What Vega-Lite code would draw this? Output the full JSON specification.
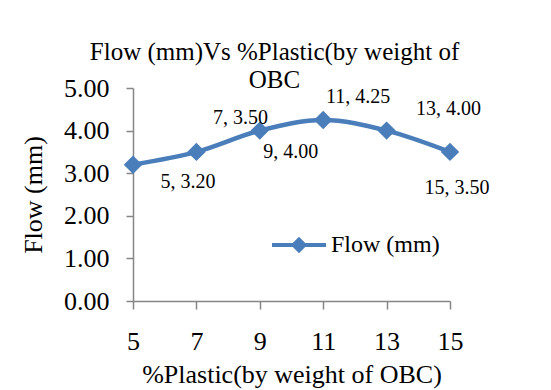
{
  "$schema": "https://vega.github.io/schema/vega-lite/v6.json",
  "width": 317,
  "height": 213,
  "autosize": {"type": "none"},
  "padding": {"left": 133, "top": 88, "right": 101, "bottom": 89},
  "background": "white",
  "config": {
    "font": "Liberation Serif",
    "view": {"stroke": null},
    "axis": {
      "grid": false,
      "domainColor": "#868686",
      "domainWidth": 1.5,
      "tickColor": "#868686",
      "tickWidth": 1.5,
      "labelColor": "black",
      "labelFont": "Liberation Serif",
      "labelFontSize": 26,
      "titleFont": "Liberation Serif",
      "titleFontSize": 26,
      "titleFontWeight": "normal",
      "titleColor": "black"
    }
  },
  "title": {
    "text": ["Flow (mm)Vs %Plastic(by weight of", "OBC"],
    "font": "Liberation Serif",
    "fontSize": 25,
    "fontWeight": "normal",
    "color": "black",
    "lineHeight": 28,
    "anchor": "middle",
    "offset": -18,
    "dx": -17
  },
  "data": {
    "values": [
      {"x": 5, "flow": 3.2, "label": "5, 3.20"},
      {"x": 7, "flow": 3.5, "label": "7, 3.50"},
      {"x": 9, "flow": 4.0, "label": "9, 4.00"},
      {"x": 11, "flow": 4.25, "label": "11, 4.25"},
      {"x": 13, "flow": 4.0, "label": "13, 4.00"},
      {"x": 15, "flow": 3.5, "label": "15, 3.50"}
    ]
  },
  "encoding": {
    "x": {
      "field": "x",
      "type": "quantitative",
      "scale": {"domain": [5, 15], "nice": false, "zero": false},
      "axis": {
        "values": [5, 7, 9, 11, 13, 15],
        "tickSize": 8,
        "labelPadding": 19,
        "labelFlush": false,
        "title": "%Plastic(by weight of OBC)",
        "titlePadding": 7
      }
    },
    "y": {
      "field": "flow",
      "type": "quantitative",
      "scale": {"domain": [0, 5], "nice": false},
      "axis": {
        "values": [0, 1, 2, 3, 4, 5],
        "format": ".2f",
        "tickSize": 7,
        "labelPadding": 17,
        "title": "Flow (mm)",
        "titlePadding": 17
      }
    }
  },
  "layer": [
    {
      "mark": {"type": "line", "interpolate": "catmull-rom", "strokeWidth": 4.5},
      "encoding": {
        "color": {
          "datum": "Flow (mm)",
          "type": "nominal",
          "scale": {"range": ["#4a7ebb"]},
          "legend": {
            "title": null,
            "orient": "none",
            "legendX": 137,
            "legendY": 128,
            "padding": 0,
            "symbolType": "M-1,0H1M-0.2,0L0,-0.2L0.2,0L0,0.2Z",
            "symbolSize": 2916,
            "symbolStrokeWidth": 4,
            "labelFont": "Liberation Serif",
            "labelFontSize": 24,
            "labelColor": "black",
            "labelOffset": 3,
            "encode": {
              "symbols": {
                "update": {
                  "fill": {"value": "#4a7ebb"},
                  "stroke": {"value": "#4a7ebb"},
                  "strokeWidth": {"value": 4},
                  "opacity": {"value": 1}
                }
              }
            }
          }
        }
      }
    },
    {
      "mark": {"type": "point", "shape": "diamond", "filled": true, "size": 340, "opacity": 1},
      "encoding": {"color": {"datum": "Flow (mm)", "type": "nominal"}}
    },
    {
      "transform": [{"filter": "datum.x == 5"}],
      "mark": {"type": "text", "fontSize": 20, "font": "Liberation Serif", "color": "black", "dx": 55, "dy": 17},
      "encoding": {"text": {"field": "label"}}
    },
    {
      "transform": [{"filter": "datum.x == 7"}],
      "mark": {"type": "text", "fontSize": 20, "font": "Liberation Serif", "color": "black", "dx": 44, "dy": -34},
      "encoding": {"text": {"field": "label"}}
    },
    {
      "transform": [{"filter": "datum.x == 9"}],
      "mark": {"type": "text", "fontSize": 20, "font": "Liberation Serif", "color": "black", "dx": 31, "dy": 21},
      "encoding": {"text": {"field": "label"}}
    },
    {
      "transform": [{"filter": "datum.x == 11"}],
      "mark": {"type": "text", "fontSize": 20, "font": "Liberation Serif", "color": "black", "dx": 35, "dy": -23},
      "encoding": {"text": {"field": "label"}}
    },
    {
      "transform": [{"filter": "datum.x == 13"}],
      "mark": {"type": "text", "fontSize": 20, "font": "Liberation Serif", "color": "black", "dx": 62, "dy": -22},
      "encoding": {"text": {"field": "label"}}
    },
    {
      "transform": [{"filter": "datum.x == 15"}],
      "mark": {"type": "text", "fontSize": 20, "font": "Liberation Serif", "color": "black", "dx": 7, "dy": 36},
      "encoding": {"text": {"field": "label"}}
    }
  ]
}
